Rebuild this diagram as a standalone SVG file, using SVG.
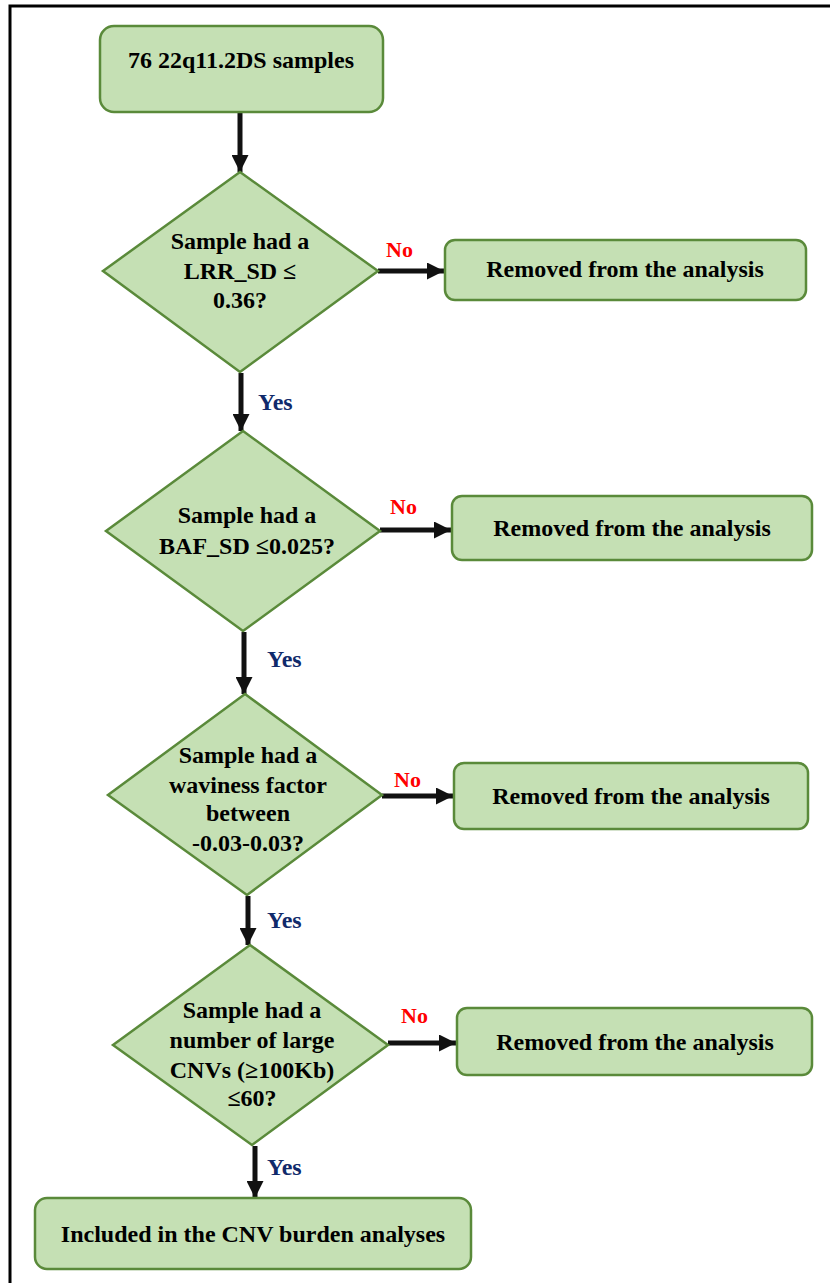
<svg xmlns="http://www.w3.org/2000/svg" width="830" height="1283" viewBox="0 0 830 1283">
<style>
.box{fill:#C5E0B4;stroke:#5A8A3A;stroke-width:2.5}
.t{font-family:"Liberation Serif","Times New Roman",serif;font-weight:bold;font-size:24px;fill:#000;text-anchor:middle}
.no{font-family:"Liberation Serif","Times New Roman",serif;font-weight:bold;font-size:22px;fill:#FF0000}
.yes{font-family:"Liberation Serif","Times New Roman",serif;font-weight:bold;font-size:24px;fill:#102A6B}
.c{stroke:#111;stroke-width:5;fill:none;marker-end:url(#ah)}
</style>
<defs>
<marker id="ah" viewBox="0 0 10 10" refX="10" refY="5" markerWidth="3.6" markerHeight="3.4" orient="auto" markerUnits="strokeWidth">
<path d="M0,0 L10,5 L0,10 z" fill="#111"/>
</marker>
</defs>
<rect width="830" height="1283" fill="#fff"/>
<g id="frame">
<path d="M10,1283 L10,6 L830,6" fill="none" stroke="#000" stroke-width="3"/>
</g>
<g id="connectors">
<line class="c" x1="240" y1="113" x2="240" y2="172"/>
<line class="c" x1="378" y1="271" x2="444" y2="271"/>
<line class="c" x1="241" y1="373" x2="241" y2="431"/>
<line class="c" x1="380" y1="530" x2="451" y2="530"/>
<line class="c" x1="244" y1="632" x2="244" y2="694"/>
<line class="c" x1="382" y1="796" x2="453" y2="796"/>
<line class="c" x1="248" y1="896" x2="248" y2="945"/>
<line class="c" x1="388" y1="1043" x2="456" y2="1043"/>
<line class="c" x1="255" y1="1146" x2="255" y2="1198"/>
<text class="no" x="386" y="257">No</text>
<text class="yes" x="258" y="410">Yes</text>
<text class="no" x="390" y="514">No</text>
<text class="yes" x="267" y="667">Yes</text>
<text class="no" x="394" y="787">No</text>
<text class="yes" x="267" y="928">Yes</text>
<text class="no" x="401" y="1023">No</text>
<text class="yes" x="267" y="1175">Yes</text>
</g>
<g id="start">
<rect class="box" x="100" y="26" width="283" height="86" rx="14"/>
<text class="t" x="241" y="68">76 22q11.2DS samples</text>
</g>
<g id="d1">
<polygon class="box" points="240,172 378,271 240,372 103,271"/>
<text class="t" x="240" y="249">Sample had a</text>
<text class="t" x="240" y="279">LRR_SD ≤</text>
<text class="t" x="240" y="308">0.36?</text>
</g>
<g id="r1">
<rect class="box" x="445" y="240" width="361" height="60" rx="10"/>
<text class="t" x="625" y="277">Removed from the analysis</text>
</g>
<g id="d2">
<polygon class="box" points="243,431 380,531 243,631 106,531"/>
<text class="t" x="247" y="523">Sample had a</text>
<text class="t" x="247" y="554">BAF_SD ≤0.025?</text>
</g>
<g id="r2">
<rect class="box" x="452" y="496" width="360" height="64" rx="10"/>
<text class="t" x="632" y="536">Removed from the analysis</text>
</g>
<g id="d3">
<polygon class="box" points="245,694 382,795 247,895 108,795"/>
<text class="t" x="248" y="763">Sample had a</text>
<text class="t" x="248" y="793">waviness factor</text>
<text class="t" x="248" y="821">between</text>
<text class="t" x="248" y="851">-0.03-0.03?</text>
</g>
<g id="r3">
<rect class="box" x="454" y="763" width="354" height="66" rx="10"/>
<text class="t" x="631" y="804">Removed from the analysis</text>
</g>
<g id="d4">
<polygon class="box" points="250,945 388,1045 252,1145 113,1045"/>
<text class="t" x="252" y="1018">Sample had a</text>
<text class="t" x="252" y="1048">number of large</text>
<text class="t" x="252" y="1078">CNVs (≥100Kb)</text>
<text class="t" x="252" y="1106">≤60?</text>
</g>
<g id="r4">
<rect class="box" x="457" y="1008" width="355" height="67" rx="10"/>
<text class="t" x="635" y="1050">Removed from the analysis</text>
</g>
<g id="end">
<rect class="box" x="35" y="1198" width="436" height="71" rx="12"/>
<text class="t" x="253" y="1242">Included in the CNV burden analyses</text>
</g>
</svg>
